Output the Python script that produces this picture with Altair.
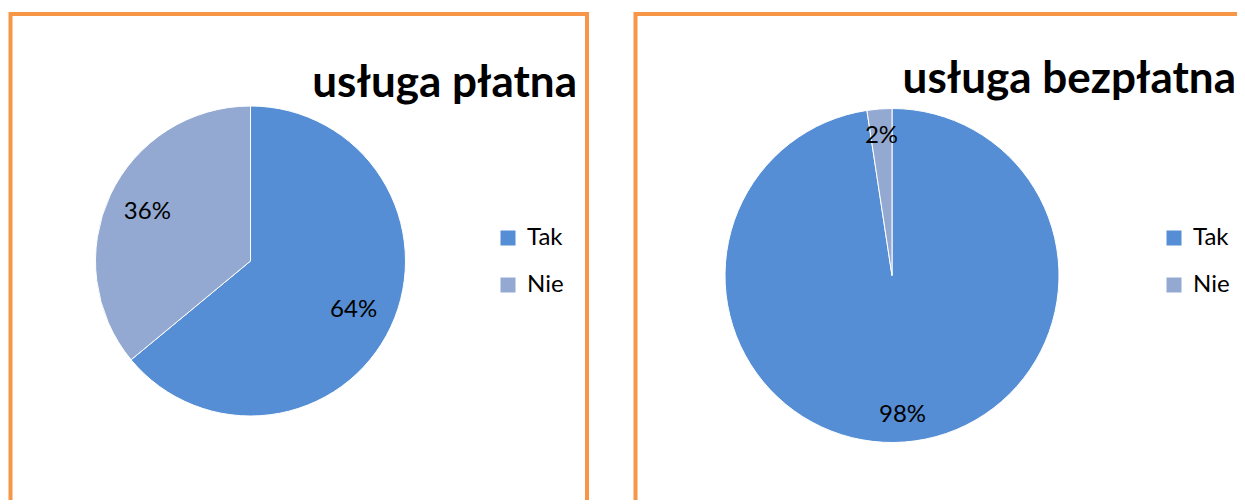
import altair as alt
import pandas as pd

# ---- data ----
titles = ["usługa płatna", "usługa bezpłatna"]
categories = ["Tak", "Nie"]
platna = [0.64, 0.36]
bezplatna = [0.976, 0.024]
colors = ["#558ED5", "#93A9D1"]
border = "#F79646"
FONT = "Lato"

W, H = 1229, 492


def make_df(values, field):
    return pd.DataFrame({
        field: categories,
        "udzial": values,
        "kolejnosc": list(range(len(categories))),
    })


def pie(title, values, field, cx, cy, r, label_r, leg_x, leg_y, title_x, title_y, box):
    df = make_df(values, field)
    base = alt.Chart(df).encode(
        theta=alt.Theta("udzial:Q", stack=True),
        order=alt.Order("kolejnosc:O"),
    )
    arc = base.mark_arc(outerRadius=r, stroke="white", strokeWidth=1).encode(
        color=alt.Color(
            f"{field}:N",
            scale=alt.Scale(domain=categories, range=colors),
            legend=alt.Legend(
                title=None,
                orient="none",
                legendX=leg_x,
                legendY=leg_y,
                direction="vertical",
                symbolType="square",
                symbolSize=225,
                symbolStrokeWidth=0,
                labelFont=FONT,
                labelFontSize=24,
                labelColor="black",
                labelOffset=7,
                rowPadding=23,
                padding=0,
            ),
        ),
        x=alt.value(cx),
        y=alt.value(cy),
    )
    labels = base.mark_text(radius=label_r, font=FONT, fontSize=24, color="black").encode(
        text=alt.Text("udzial:Q", format=".0%"),
        x=alt.value(cx),
        y=alt.value(cy),
    )
    ttl = alt.Chart(pd.DataFrame({"t": [title]})).mark_text(
        font=FONT, fontSize=44, fontWeight="bold", color="black",
        align="right", baseline="alphabetic",
    ).encode(text="t:N", x=alt.value(title_x), y=alt.value(title_y))
    frame = alt.Chart(pd.DataFrame({"t": [title]})).mark_rect(
        fill=None, stroke=border, strokeWidth=4
    ).encode(
        x=alt.value(box[0]), x2=alt.value(box[1]),
        y=alt.value(box[2]), y2=alt.value(box[3]),
    )
    return [frame, arc, labels, ttl]


left = pie(titles[0], platna, "odp1", 242.5, 253, 155, 114, 488, 218, 569, 89,
           (2.5, 579, 6, H + 40))
right = pie(titles[1], bezplatna, "odp2", 884, 267.5, 167, 140, 1154, 218, 1228, 85,
            (627.5, W + 60, 6, H + 40))

chart = (
    alt.layer(*left, *right)
    .resolve_scale(color="independent")
    .resolve_legend(color="independent")
    .properties(width=W, height=H, padding=0, autosize=alt.AutoSizeParams(type="none"))
    .configure_view(stroke=None)
)

chart.save("out.html", embed_options={"renderer": "svg", "actions": False})
